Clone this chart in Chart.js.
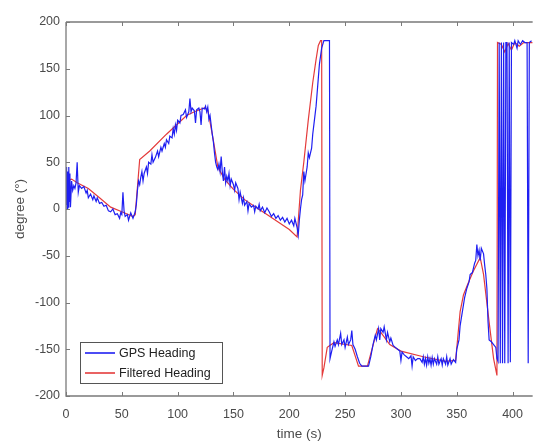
<!DOCTYPE html>
<html>
<head>
<meta charset="utf-8">
<script src="https://cdn.jsdelivr.net/npm/chart.js@4"></script>
<style>
    body { margin: 0; background: #fff; }
</style>
</head>
<body>
<canvas id="chart-heading" width="534" height="442"></canvas>
<script>
// GPS heading (raw) - time in seconds, heading in degrees
const gpsTime = [0, 0.5, 1, 1.5, 2, 2.5, 3, 3.5, 4, 5, 6, 7, 8, 9, 10, 11, 12, 14, 16, 18, 19, 20, 22, 24, 25, 27, 28, 30, 32, 34, 36, 38, 40, 42, 44, 46, 48, 49, 50, 51, 52, 53, 55, 56, 58, 60, 62,
    63, 64, 65, 66, 67, 68, 69, 70, 72, 73, 74, 76, 77, 78, 80, 82, 83, 85, 86, 88, 89, 90, 92, 93, 95, 96, 97, 98, 99, 100, 102, 103, 105, 107, 108, 110, 111, 112, 113, 115, 116, 117, 119, 120, 121, 122, 124, 125, 126, 127, 128, 129,
    130, 131, 132, 133, 134, 135, 136, 137, 138, 139, 140, 141, 142, 143, 144, 145, 146, 147, 148, 150, 151, 152, 154, 155, 156, 158, 159, 160, 162, 163, 164, 166, 168, 169, 170, 172, 173, 174, 176, 178, 180, 182, 184, 186, 188, 190, 192, 194, 196, 198, 200, 202, 204, 205, 207, 208, 209,
    210, 211, 212, 213, 214, 216, 217, 218, 220, 221, 222, 224, 226, 227, 229, 231, 233, 235, 236, 236.5, 237, 238, 240, 241, 243, 244, 246, 247, 249, 250, 252, 253, 255, 256, 257, 259, 261, 263, 265, 268, 271, 273, 275, 277, 278, 280, 281, 282, 284, 285, 287, 288, 290, 291, 293, 295, 297, 299,
    300, 301, 303, 305, 307, 309, 310, 311, 313, 315, 317, 319, 320, 321, 322, 323, 324, 325, 326, 327, 328, 329, 330, 332, 333, 334, 336, 337, 338, 340, 341, 342, 344, 345, 347, 349,
    350, 352, 353, 355, 357, 359, 361, 362, 364, 366, 367, 368, 369, 370, 371, 372, 374, 375, 376, 377, 378, 379, 381, 383, 385, 386, 387, 388, 389, 390, 391, 392, 393, 394, 395, 396, 397, 398, 399, 401, 402, 404, 405, 407, 409, 411, 413, 414, 415, 417];
const gpsHeading = [5, 45, 0, 40, 2, 45, 8, 38, 2, 30, 20, 25, 22, 28, 50, 18, 25, 22, 24, 17, 20, 12, 16, 10, 14, 8, 12, 6, 7, 3, 4, -2, -3, 0, -6, -5, -10, -4, -6, 18, -2, -8, -6, -12, -4, -10, -3,
    5, 20, 30, 26, 34, 40, 30, 38, 45, 38, 50, 48, 58, 50, 55, 62, 56, 66, 62, 70, 66, 74, 70, 78, 76, 86, 80, 90, 84, 95, 92, 100, 101, 106, 98, 104, 118, 104, 108, 105, 92, 106, 108, 104, 90, 108, 107, 110, 104, 109, 96, 100,
    90, 80, 72, 60, 50, 45, 42, 48, 40, 56, 40, 30, 45, 28, 35, 30, 38, 25, 32, 26, 20, 28, 22, 10, 18, 6, 12, 4, 8, -2, 6, 2, 4, -3, 3, 0, 5, -2, 2, -4, 1, -3, -8, -5, -10, -7, -12, -9, -14, -10, -16, -12, -18, -10, -20, -28, -12,
    0, 10, 15, 40, 30, 45, 60, 55, 65, 80, 90, 110, 140, 155, 172, 180, 180, 180, 180, -160, -160, -152, -142, -147, -140, -145, -133, -145, -140, -148, -137, -145, -140, -130, -145, -150, -158, -165, -168, -168, -168, -158, -145, -135, -140, -128, -140, -128, -132, -126, -140, -132, -142, -138, -146, -148, -150, -152,
    -162, -153, -156, -158, -160, -157, -168, -158, -162, -160, -160, -164, -158, -166, -160, -167, -158, -165, -160, -167, -159, -166, -160, -166, -158, -166, -160, -167, -160, -166, -158, -167, -160, -166, -161, -164,
    -150, -140, -125, -110, -95, -85, -78, -70, -68, -58, -55, -38, -50, -44, -55, -42, -48, -60, -70, -85, -120, -140, -142, -145, -148, -160, -163, 178, -165, 178, -165, 178, -165, 178, 178, -165, 178, -164, 178, 176, 180, 172, 180, 176, 180, 178, 178, -165, 178, 180];

// Filtered heading
const filtTime = [0, 5, 10, 20, 30, 40, 50, 60, 62, 66, 75, 90, 108, 115, 124, 127, 131, 136, 142, 150, 160, 170, 180, 190, 200, 207,
    210, 213, 217, 221, 224, 226, 228, 229, 229.5, 231, 234, 240, 256, 262, 270, 279, 282, 290, 300, 320, 340, 349,
    353, 356, 360, 365, 371, 374, 379, 383, 386, 386.5, 390, 393, 396, 399, 402, 406, 410, 418];
const filtHeading = [30, 32, 28, 22, 12, 2, -3, -8, -6, 53, 62, 80, 100, 104, 108, 106, 80, 45, 32, 21, 10, 2, -6, -14, -22, -30,
    20, 50, 95, 135, 160, 175, 180, 180, -178, -170, -148, -143, -146, -168, -168, -128, -132, -145, -152, -158, -163, -162,
    -110, -92, -80, -66, -52, -70, -121, -160, -178, 178, 176, 168, 177, 170, 178, 174, 178, 178];

const seriesLabels = ['GPS Heading', 'Filtered Heading'];
const seriesColors = ['#1f1ff2', '#e43b3b'];

const xTicks = [0, 50, 100, 150, 200, 250, 300, 350, 400];
const yTicks = [-200, -150, -100, -50, 0, 50, 100, 150, 200];

const axisColor = '#7a7a7a';
const textColor = '#4a4a4a';
const fontFamily = '"Liberation Sans", Arial, sans-serif';

function toPoints(ts, vs) {
    return ts.map((t, i) => ({ x: t, y: vs[i] }));
}

// matlab style box: left, bottom, top lines with inward ticks
const boxPlugin = {
    id: 'boxPlugin',
    afterDatasetsDraw(chart) {
        const { ctx, chartArea: a, scales } = chart;
        ctx.save();
        ctx.strokeStyle = axisColor;
        ctx.lineWidth = 1.3;
        ctx.beginPath();
        ctx.moveTo(a.left, a.top);
        ctx.lineTo(a.right, a.top);
        ctx.moveTo(a.left, a.top);
        ctx.lineTo(a.left, a.bottom);
        ctx.lineTo(a.right, a.bottom);
        ctx.stroke();

        ctx.lineWidth = 1;
        ctx.beginPath();
        xTicks.forEach(v => {
            const px = Math.round(scales.x.getPixelForValue(v)) + 0.5;
            ctx.moveTo(px, a.bottom);
            ctx.lineTo(px, a.bottom - 4);
            ctx.moveTo(px, a.top);
            ctx.lineTo(px, a.top + 4);
        });
        yTicks.forEach(v => {
            const py = Math.round(scales.y.getPixelForValue(v)) + 0.5;
            ctx.moveTo(a.left, py);
            ctx.lineTo(a.left + 4, py);
        });
        ctx.stroke();
        ctx.restore();
    }
};

// legend box in the lower left corner of the plot
const legendBoxPlugin = {
    id: 'legendBoxPlugin',
    afterDraw(chart) {
        const { ctx, chartArea: a } = chart;
        const x0 = a.left + 14, y0 = a.bottom - 54, w = 142, h = 41;
        ctx.save();
        ctx.fillStyle = '#fff';
        ctx.fillRect(x0, y0, w, h);
        ctx.strokeStyle = '#555';
        ctx.lineWidth = 1;
        ctx.strokeRect(x0 + 0.5, y0 + 0.5, w, h);
        ctx.font = '12.5px ' + fontFamily;
        ctx.textBaseline = 'middle';
        chart.data.datasets.forEach((ds, i) => {
            const yy = y0 + 11 + i * 20;
            ctx.strokeStyle = ds.borderColor;
            ctx.lineWidth = 1.6;
            ctx.beginPath();
            ctx.moveTo(x0 + 5, yy);
            ctx.lineTo(x0 + 35, yy);
            ctx.stroke();
            ctx.fillStyle = '#222';
            ctx.fillText(ds.label, x0 + 39, yy + 1);
        });
        ctx.restore();
    }
};

new Chart(document.getElementById('chart-heading'), {
    type: 'line',
    data: {
        datasets: [
            {
                label: seriesLabels[0],
                data: toPoints(gpsTime, gpsHeading),
                borderColor: seriesColors[0],
                borderWidth: 1.2,
                pointRadius: 0,
                tension: 0
            },
            {
                label: seriesLabels[1],
                data: toPoints(filtTime, filtHeading),
                borderColor: seriesColors[1],
                borderWidth: 1.2,
                pointRadius: 0,
                tension: 0
            }
        ]
    },
    options: {
        responsive: false,
        animation: false,
        layout: { padding: { top: 22, right: 0, left: 0, bottom: 0 } },
        plugins: {
            legend: { display: false },
            tooltip: { enabled: false }
        },
        scales: {
            x: {
                type: 'linear',
                min: 0,
                max: 418,
                afterFit: s => { s.height = 46; },
                grid: { display: false, tickLength: 0 },
                border: { display: false },
                ticks: {
                    stepSize: 50,
                    includeBounds: false,
                    maxRotation: 0,
                    padding: 11,
                    color: textColor,
                    font: { family: fontFamily, size: 12.5 }
                },
                title: {
                    display: true,
                    text: 'time (s)',
                    color: textColor,
                    padding: { top: 0, bottom: 0 },
                    font: { family: fontFamily, size: 13.5 }
                }
            },
            y: {
                min: -200,
                max: 200,
                afterFit: s => { s.width = 66; },
                grid: { display: false, tickLength: 0 },
                border: { display: false },
                ticks: {
                    stepSize: 50,
                    padding: 6,
                    color: textColor,
                    font: { family: fontFamily, size: 12.5 }
                },
                title: {
                    display: true,
                    text: 'degree (°)',
                    color: textColor,
                    padding: { top: 12, bottom: 0 },
                    font: { family: fontFamily, size: 13.5 }
                }
            }
        }
    },
    plugins: [boxPlugin, legendBoxPlugin]
});
</script>
</body>
</html>
